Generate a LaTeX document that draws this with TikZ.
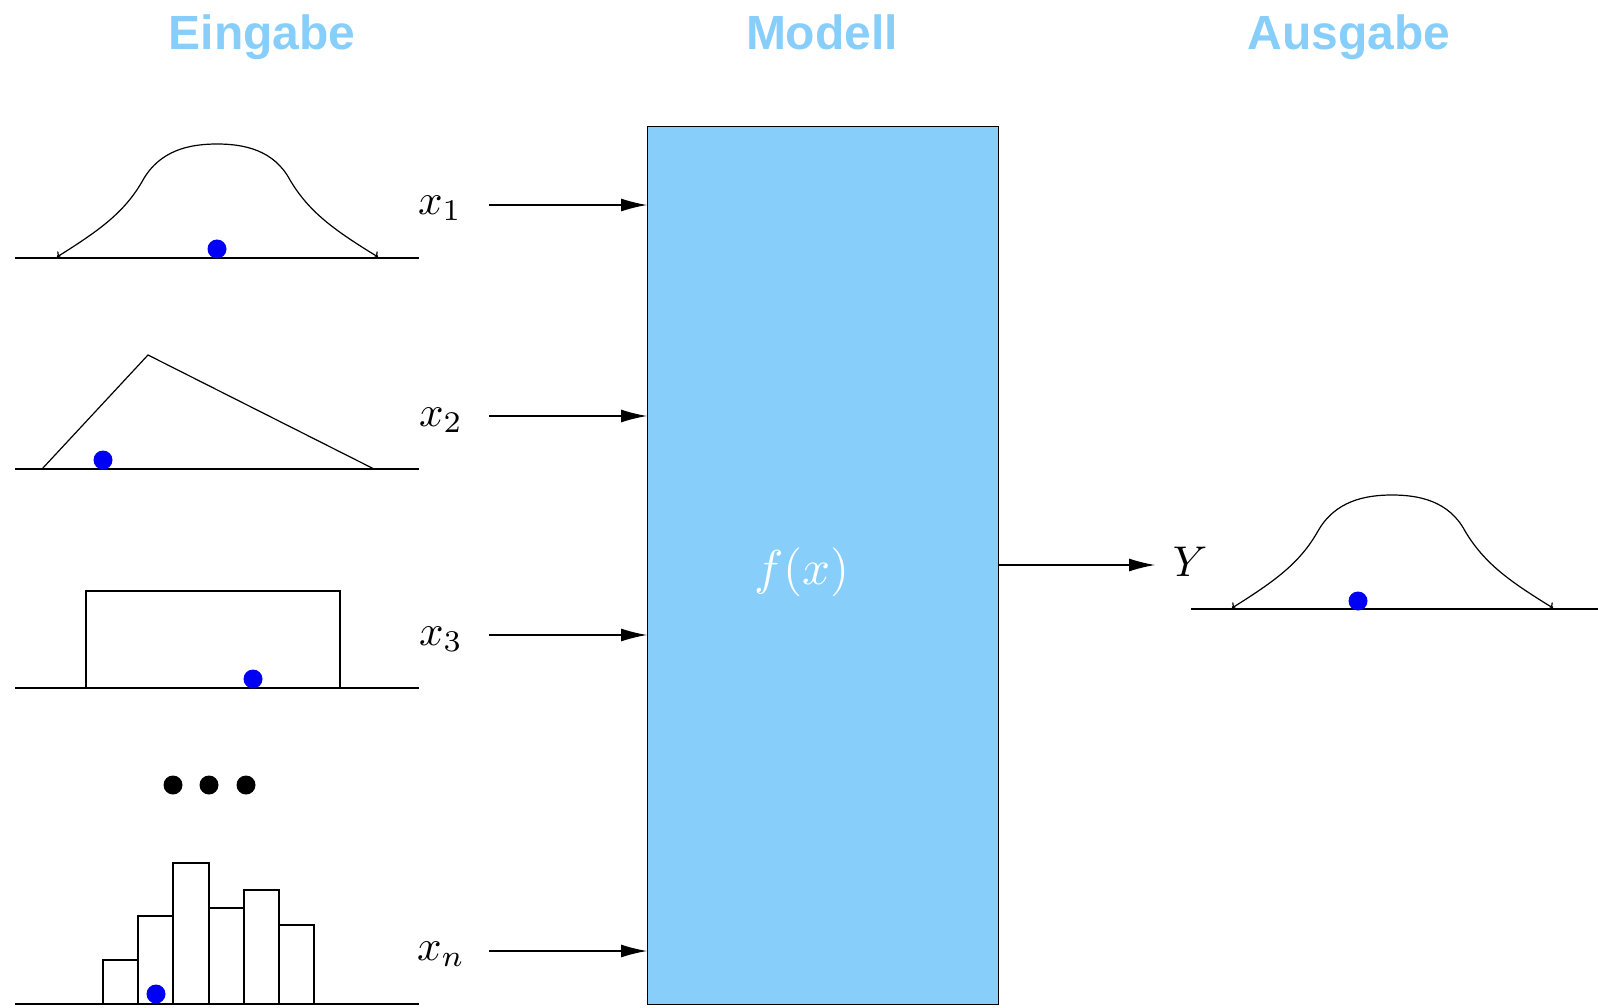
\documentclass[tikz,border=0pt]{standalone}
\usepackage{graphicx}
\usepackage{fontspec}
\newfontfamily\titlefont{Liberation Sans}
\usetikzlibrary{arrows.meta}
\definecolor{skyb}{RGB}{135,206,250}
\definecolor{dotblue}{RGB}{0,0,245}
\newcommand{\lblmath}[1]{\scalebox{4.3}{$#1$}}
\tikzset{
  title/.style={font=\titlefont\bfseries\fontsize{48}{52}\selectfont, text=skyb, anchor=base},
  mathlbl/.style={anchor=center},
  curve/.style={line width=1.2pt},
  base/.style={line width=1.2pt},
  flow/.style={line width=1.2pt, -{Latex[length=26pt,width=13pt]}},
  bluedot/.style={fill=dotblue, draw=none},
  blackdot/.style={fill=black, draw=none},
  gauss/.pic={
    \draw[curve, {To[length=4pt,width=9pt]}-{To[length=4pt,width=9pt]}]
      (57,257) .. controls (100,230) and (125,212) .. (143,180)
      .. controls (160,150) and (190,144) .. (217,144)
      .. controls (244,144) and (274,150) .. (290,180)
      .. controls (309,212) and (334,230) .. (378,257);
  }
}
\begin{document}
\begin{tikzpicture}[x=1pt,y=-1pt]
\useasboundingbox (0,0) rectangle (1598,1008);

% titles
\node[title] (tin) at (262,50) {Eingabe};
\node[title] (tmod) at (822,50) {Modell};
\node[title] (tout) at (1349,50) {Ausgabe};

% model box
\node[draw=black, line width=1pt, fill=skyb, minimum width=351pt, minimum height=878pt, inner sep=0pt, anchor=north west] (box) at (647,126) {};
\node[mathlbl, text=white] (f) at (802,572) {\scalebox{4.9}{$f(x)$}};

% input 1: gaussian
\draw[base] (15,258) -- (419,258);
\pic at (0,0) {gauss};
\fill[bluedot] (217,249) circle (9.5pt);

% input 2: triangle
\draw[base] (15,469) -- (419,469);
\draw[curve] (42,469) -- (148,355) -- (374,469);
\fill[bluedot] (103,460) circle (9.5pt);

% input 3: uniform
\draw[base] (15,688) -- (419,688);
\draw[curve] (86,688) -- (86,591) -- (340,591) -- (340,688);
\fill[bluedot] (253,679) circle (9.5pt);

% ellipsis dots
\fill[blackdot] (173,785) circle (9.5pt);
\fill[blackdot] (209,785) circle (9.5pt);
\fill[blackdot] (246,785) circle (9.5pt);

% input n: histogram
\draw[curve] (103,1004) rectangle (138,960);
\draw[curve] (138,1004) rectangle (173,916);
\draw[curve] (173,1004) rectangle (209,863);
\draw[curve] (209,1004) rectangle (244,908);
\draw[curve] (244,1004) rectangle (279,890);
\draw[curve] (279,1004) rectangle (314,925);
\draw[base] (15,1004) -- (419,1004);
\fill[bluedot] (156,994) circle (9.5pt);

% labels
\node[mathlbl] (x1) at (440,208) {\lblmath{x_1}};
\node[mathlbl] (x2) at (441,420) {\lblmath{x_2}};
\node[mathlbl] (x3) at (441,639) {\lblmath{x_3}};
\node[mathlbl] (xn) at (441,954) {\lblmath{x_n}};

% arrow starts
\coordinate (s1) at (489,205);
\coordinate (s2) at (489,416);
\coordinate (s3) at (489,635);
\coordinate (sn) at (489,951);
\draw[flow] (s1) -- (box.west |- s1);
\draw[flow] (s2) -- (box.west |- s2);
\draw[flow] (s3) -- (box.west |- s3);
\draw[flow] (sn) -- (box.west |- sn);

% output
\coordinate (oe) at (1155,565);
\draw[flow] (box.east |- oe) -- (oe);
\node[mathlbl] (Y) at (1190,562) {\lblmath{Y}};
\draw[base] (1191,609) -- (1598,609);
\pic at (1175,351) {gauss};
\fill[bluedot] (1358,601) circle (9.5pt);
\end{tikzpicture}
\end{document}
